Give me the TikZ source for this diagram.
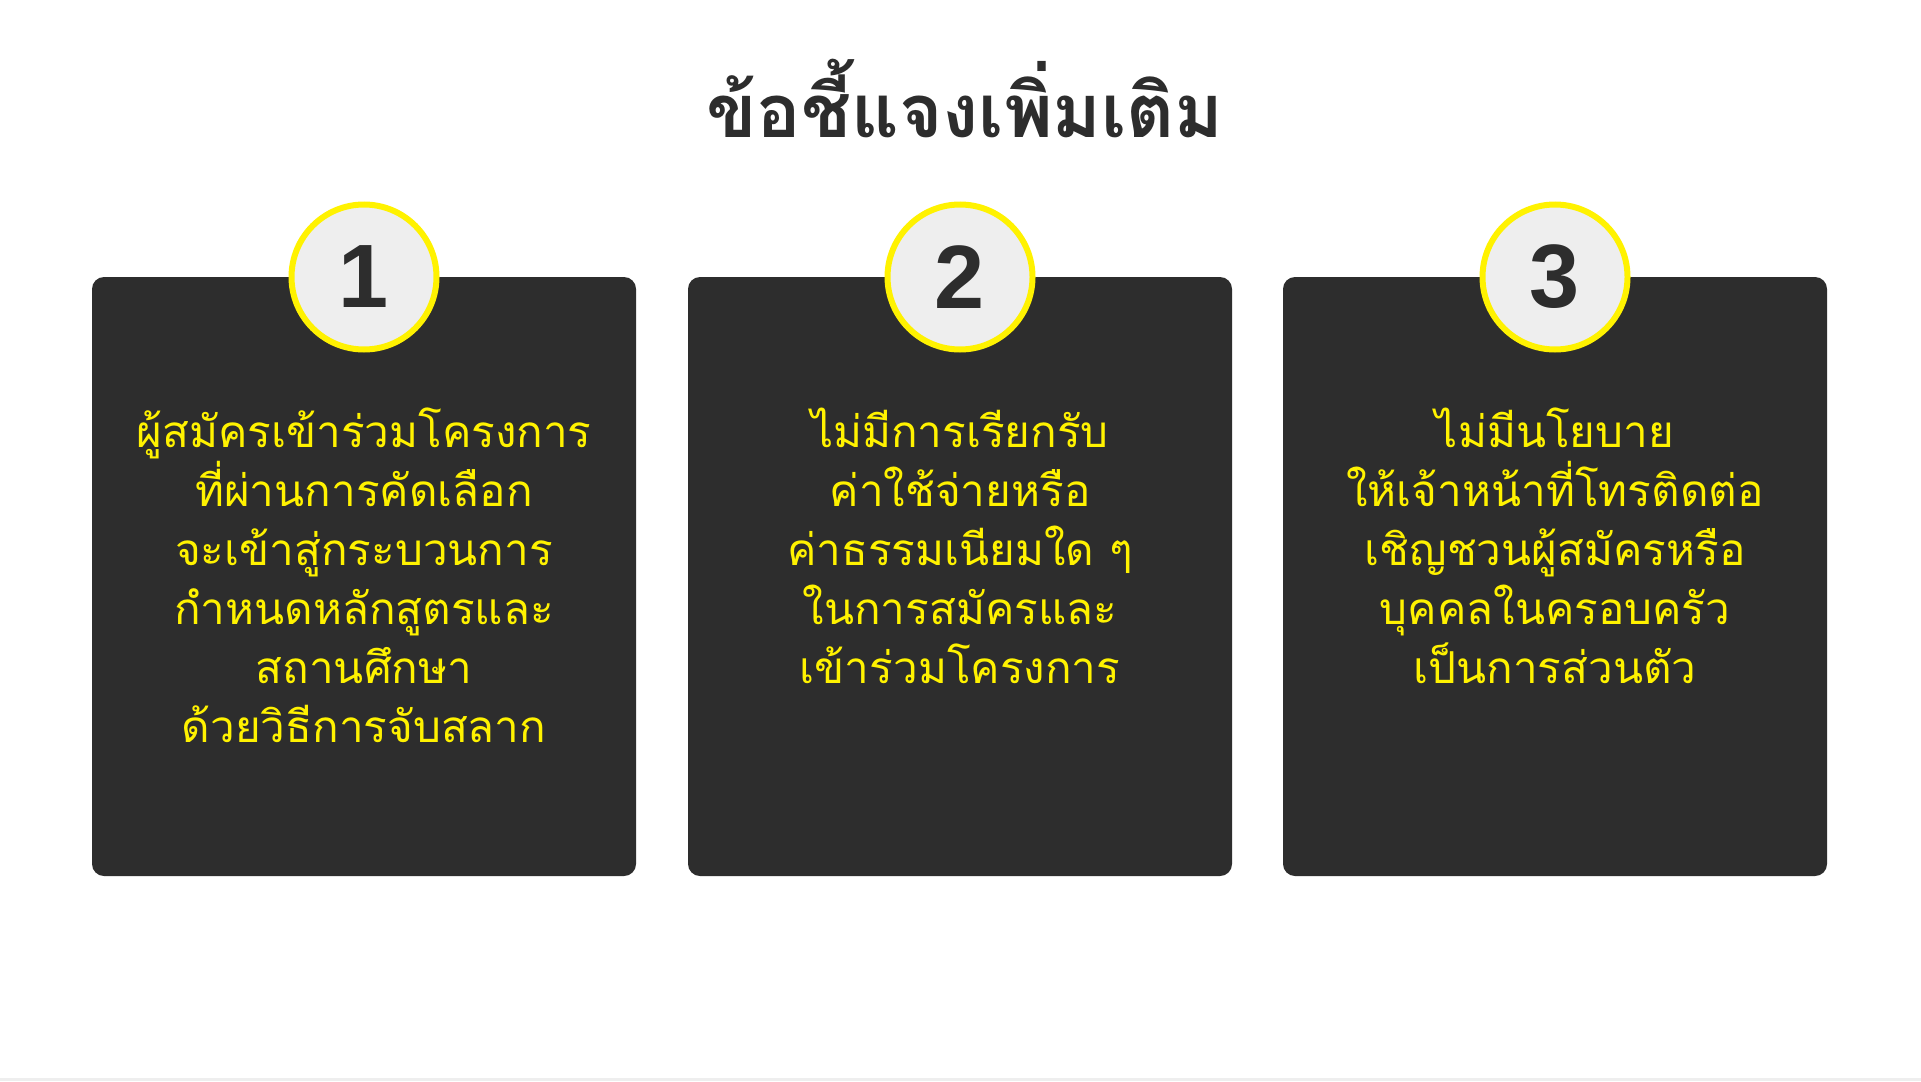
\documentclass[tikz,border=0pt]{standalone}
\usepackage{fontspec}
\newfontfamily\thaifont[Script=Thai]{Loma}
\newfontfamily\numfont{Liberation Sans}
\definecolor{cardgray}{HTML}{2D2D2D}
\definecolor{markyellow}{HTML}{FFF200}
\definecolor{discgray}{HTML}{EEEEEE}
\tikzset{
  card/.style={fill=cardgray,rounded corners=6pt,minimum width=272pt,minimum height=299.5pt,inner sep=0pt},
  disc/.style={circle,fill=discgray,draw=markyellow,line width=3pt,minimum size=72.5pt,inner sep=0pt,
    text=cardgray,font=\numfont\bfseries\fontsize{45pt}{45pt}\selectfont},
  cardtext/.style={align=center,text=markyellow,inner sep=0pt,anchor=base,
    font=\thaifont\fontsize{22pt}{29.5pt}\selectfont},
}
\begin{document}
\begin{tikzpicture}[x=0.5pt,y=-0.5pt]
%%
\useasboundingbox (0,0) rectangle (1921,1081);
\fill[white] (0,0) rectangle (1921,1081);
\fill[discgray] (0,1078) rectangle (1921,1081);
\node (title) at (965,137) [anchor=base,text=cardgray,inner sep=0pt,font=\thaifont\bfseries\fontsize{37pt}{37pt}\selectfont] {ข้อชี้แจงเพิ่มเติม};
  \node (card_1) at (364,576.5) [card] {};
  \node (card_2) at (960,576.5) [card] {};
  \node (card_3) at (1555,576.5) [card] {};
  \node (num_1) at (364,277) [disc] {1};
  \node (num_2) at (960,277) [disc] {2};
  \node (num_3) at (1555,277) [disc] {3};
  % base anchor sits on the last line
  \node (text_1) at (364,742) [cardtext] {ผู้สมัครเข้าร่วมโครงการ\\ที่ผ่านการคัดเลือก\\จะเข้าสู่กระบวนการ\\กำหนดหลักสูตรและ\\สถานศึกษา\\ด้วยวิธีการจับสลาก};
  \node (text_2) at (960,683) [cardtext] {ไม่มีการเรียกรับ\\ค่าใช้จ่ายหรือ\\ค่าธรรมเนียมใด ๆ\\ในการสมัครและ\\เข้าร่วมโครงการ};
  \node (text_3) at (1555,683) [cardtext] {ไม่มีนโยบาย\\ให้เจ้าหน้าที่โทรติดต่อ\\เชิญชวนผู้สมัครหรือ\\บุคคลในครอบครัว\\เป็นการส่วนตัว};
%
\end{tikzpicture}
\end{document}
